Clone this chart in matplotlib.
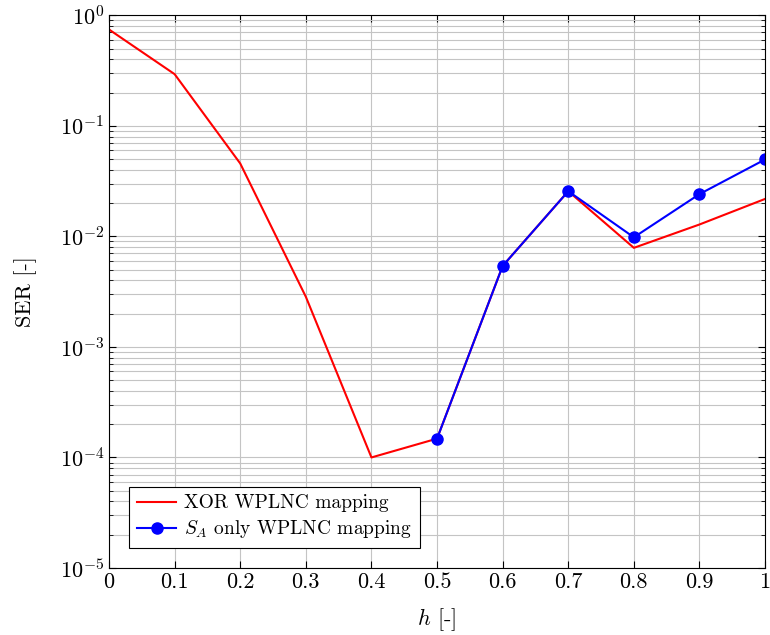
import matplotlib
matplotlib.use("Agg")
import matplotlib.pyplot as plt
import numpy as np

plt.rcParams["font.family"] = "cmr10"
plt.rcParams["mathtext.fontset"] = "cm"
plt.rcParams["axes.formatter.use_mathtext"] = True

h_xor = [0.0, 0.1, 0.2, 0.3, 0.4, 0.5, 0.6, 0.7, 0.8, 0.9, 1.0]
ser_xor = [0.743, 0.293, 0.0456, 0.00284, 1.0e-4, 1.48e-4, 0.0054, 0.0256, 0.00787, 0.0128, 0.0218]

h_sa = [0.5, 0.6, 0.7, 0.8, 0.9, 1.0]
ser_sa = [1.48e-4, 0.0054, 0.0256, 0.0098, 0.0241, 0.0496]

fig = plt.figure(figsize=(7.7, 6.35), dpi=100)
ax = fig.add_axes([0.1416, 0.1055, 0.852, 0.8705])

ax.plot(h_xor, ser_xor, color="red", lw=1.5, label="XOR WPLNC mapping")
ax.plot(h_sa, ser_sa, color="blue", lw=1.5, marker="o", markersize=8,
        label=r"$S_A$ only WPLNC mapping")

ax.set_yscale("log")
ax.set_xlim(0, 1)
ax.set_ylim(1e-5, 1)
ax.set_xticks(np.arange(0, 1.01, 0.1))
ax.set_xticklabels(["0", "0.1", "0.2", "0.3", "0.4", "0.5", "0.6", "0.7", "0.8", "0.9", "1"])
ax.grid(True, which="major", color="#c4c4c4", lw=0.8)
ax.grid(True, which="minor", axis="y", color="#c4c4c4", lw=0.8)
ax.tick_params(which="both", direction="in", top=True, right=True, labelsize=16)
ax.tick_params(which="major", length=5)
ax.tick_params(which="minor", length=3)
ax.set_axisbelow(True)

ax.set_xlabel(r"$h$ [-]", fontsize=16, labelpad=10)
ax.set_ylabel("SER [-]", fontsize=16, labelpad=16)

leg = ax.legend(loc="lower left", bbox_to_anchor=(0.031, 0.036), borderaxespad=0,
                fontsize=14, fancybox=False, edgecolor="black", framealpha=1,
                handlelength=2.0, handletextpad=0.4, borderpad=0.4,
                labelspacing=0.3)
leg.get_frame().set_linewidth(0.8)

fig.savefig("out.png", dpi=100)
